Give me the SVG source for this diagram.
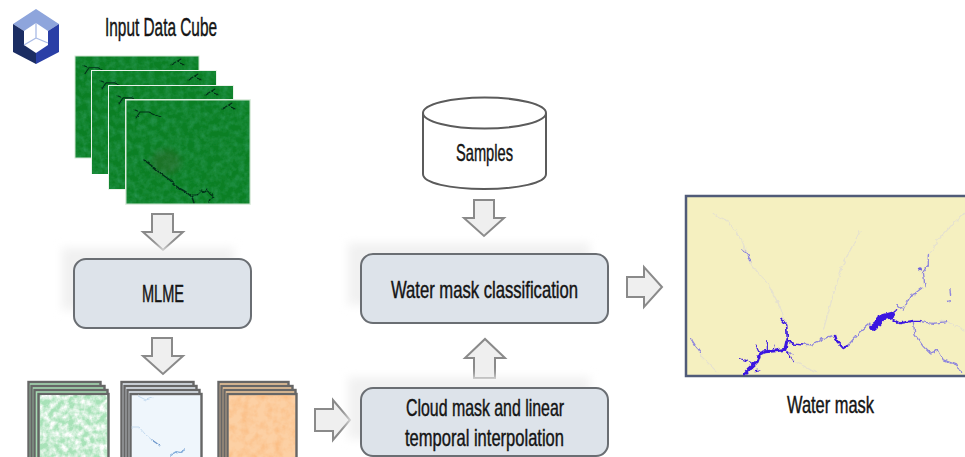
<svg xmlns="http://www.w3.org/2000/svg" xmlns:xlink="http://www.w3.org/1999/xlink" width="965" height="457" viewBox="0 0 965 457">
<style>
text{font-family:"Liberation Sans Narrow","Liberation Sans",sans-serif;fill:#141414;font-size:24px;stroke:#141414;stroke-width:.45px;text-anchor:start}
.box{fill:#dde3ea;stroke:#6a6e73;stroke-width:2}
.arrow{fill:#efefef;stroke:#8a8a8a;stroke-width:2;stroke-linejoin:miter}
.shadow{fill:#f1f1f1;filter:url(#soft)}
.lay{stroke:#666;stroke-width:2.4}
.sat{stroke:#cfe6d2;stroke-width:1}
.r{fill:none;stroke-linecap:round;stroke-linejoin:round}
</style>
<defs>
<filter id="soft" x="-20%" y="-20%" width="140%" height="140%"><feGaussianBlur stdDeviation="5"/></filter>
<filter id="b1" x="-10%" y="-10%" width="120%" height="120%"><feTurbulence type="fractalNoise" baseFrequency="0.25" numOctaves="2" seed="3" result="n"/><feDisplacementMap in="SourceGraphic" in2="n" scale="3" xChannelSelector="R" yChannelSelector="G"/><feGaussianBlur stdDeviation="0.45"/></filter>
<filter id="b2" x="-30%" y="-30%" width="160%" height="160%"><feGaussianBlur stdDeviation="3"/></filter>
<filter id="bm" x="-5%" y="-5%" width="110%" height="110%"><feTurbulence type="fractalNoise" baseFrequency="0.07" numOctaves="2" seed="6" result="n"/><feDisplacementMap in="SourceGraphic" in2="n" scale="14" xChannelSelector="R" yChannelSelector="G"/><feGaussianBlur stdDeviation="1.300"/></filter>
<filter id="mott" x="0" y="0" width="100%" height="100%"><feTurbulence type="fractalNoise" baseFrequency="0.16" numOctaves="3" seed="4"/><feColorMatrix values="0 0 0 0 0.02  0 0 0 0 0.3  0 0 0 0 0.08  1.6 0 0 0 -0.55"/><feGaussianBlur stdDeviation="0.6"/></filter>
<filter id="mottL" x="0" y="0" width="100%" height="100%"><feTurbulence type="fractalNoise" baseFrequency="0.16" numOctaves="3" seed="9"/><feColorMatrix values="0 0 0 0 1  0 0 0 0 1  0 0 0 0 1  2.200 0 0 0 -0.7"/><feGaussianBlur stdDeviation="0.7"/></filter>
<filter id="mottO" x="0" y="0" width="100%" height="100%"><feTurbulence type="fractalNoise" baseFrequency="0.12" numOctaves="3" seed="13"/><feColorMatrix values="0 0 0 0 0.96  0 0 0 0 0.48  0 0 0 0 0.2  2 0 0 0 -0.75"/><feGaussianBlur stdDeviation="0.6"/></filter>
<symbol id="sat" viewBox="0 0 124 104" width="124" height="104" preserveAspectRatio="none">
<rect width="124" height="104" fill="#0b7f24"/>
<rect width="124" height="104" filter="url(#mott)"/>
<ellipse cx="40" cy="62" rx="15" ry="13" fill="#5a4a32" opacity=".22" filter="url(#b2)"/>
<g class="r" stroke="#06301a" stroke-width="1.100" filter="url(#b1)">
<path d="M9 10 14 12 23 12 34 17M14 12 10 18"/>
<path stroke-width="1.500" d="M18 60 26 66 34 73 44 80 51 87 60 92 66 97 68 103"/>
<path d="M66 95 71 95 75 91 79 92 81 90 84 94 88 97 84 99 83 103"/>
<path d="M96 9 101 6 106 3M104 5 108 9"/>
</g>
</symbol>
</defs>

<g id="connectors">
<path class="arrow" d="M152 214H173V232H183L163 250 143 232H152Z"/>
<path class="arrow" d="M152 338H172V356H183L163 374 143 356H152Z"/>
<path class="arrow" d="M474 200H494V218H504L484 236 464 218H474Z"/>
<path class="arrow" d="M474 378H495V358H505L485 339 465 358H474Z"/>
<path class="arrow" d="M627 277H644V267L662 287 644 307V297H627Z"/>
<path class="arrow" d="M315 409H333V400L350 420 333 440V431H315Z"/>
</g>

<g id="logo">
<polygon points="36,9 59,24 48,31 36,23 24,31 13,24" fill="#8ea5dc"/>
<polygon points="13,24 24,31 24,45 36,53 36,64 13,52" fill="#1b2d63"/>
<polygon points="59,24 48,31 48,45 36,53 36,64 59,52" fill="#2a3fa6"/>
<path d="M36 23V38M36 38 24 45M36 38 48 43" stroke="#a9bbe6" stroke-width="1.300" fill="none"/>
</g>

<g id="input-data-cube">
<text x="105" y="36" textLength="112" lengthAdjust="spacingAndGlyphs" style="font-size:25px">Input Data Cube</text>
<use xlink:href="#sat" href="#sat" x="75" y="56" width="124" height="102"/>
<rect class="sat" x="75" y="56" width="124" height="102" fill="none"/>
<rect x="91" y="70" width="126" height="104" fill="#eaf3ea"/>
<use xlink:href="#sat" href="#sat" x="92" y="71" width="124" height="103"/>
<rect x="108" y="85" width="126" height="105" fill="#eaf3ea"/>
<use xlink:href="#sat" href="#sat" x="109" y="86" width="124" height="103"/>
<rect x="125" y="99" width="126" height="106" fill="#eaf3ea"/>
<use xlink:href="#sat" href="#sat" x="126" y="100" width="124" height="104"/>
<rect class="sat" x="126" y="100" width="124" height="104" fill="none"/>
</g>

<g id="mlme">
<rect class="shadow" x="62" y="248" width="172" height="62"/>
<rect class="box" x="74" y="259" width="177" height="69" rx="12"/>
<text x="142" y="302" textLength="42" lengthAdjust="spacingAndGlyphs">MLME</text>
</g>

<g id="stack-green">
<rect class="lay" x="28.500" y="382" width="72" height="80" fill="#a6dab2"/>
<rect class="lay" x="31.500" y="386" width="73" height="80" fill="#a6dab2"/>
<rect class="lay" x="34.500" y="390" width="73" height="80" fill="#a6dab2"/>
<rect class="lay" x="38.500" y="394" width="70" height="80" fill="#a8e2b8"/>
<rect x="40" y="395" width="67" height="62" filter="url(#mottL)"/>
</g>
<g id="stack-blue">
<rect class="lay" x="121.500" y="382" width="72" height="80" fill="#dfe6ee"/>
<rect class="lay" x="124.500" y="386" width="72" height="80" fill="#dfe6ee"/>
<rect class="lay" x="127.500" y="390" width="72" height="80" fill="#dfe6ee"/>
<rect class="lay" x="130.500" y="394" width="71" height="80" fill="#eff6fc"/>
<g class="r" filter="url(#b1)">
<path d="M132 427 139 427 145 434 152 440 158 444M138 396 146 400 152 398" stroke="#c4daef" stroke-width="1"/>
<path d="M152 440 159 445" stroke="#6f98cc" stroke-width="1.200"/>
<path d="M171 455 176 452 181 453 184 449" stroke="#86aedb" stroke-width="1.800"/>
</g>
</g>
<g id="stack-orange">
<rect class="lay" x="218.500" y="382" width="70" height="80" fill="#ecc69a"/>
<rect class="lay" x="221.500" y="386" width="71" height="80" fill="#ecc69a"/>
<rect class="lay" x="224.500" y="390" width="71" height="80" fill="#ecc69a"/>
<rect class="lay" x="227.500" y="394" width="69" height="80" fill="#fcd0a4"/>
<rect x="229" y="395" width="66" height="62" filter="url(#mottO)" opacity=".75"/>
</g>

<g id="samples">
<path d="M423 113V174C423 183 450 189 484 189S546 183 546 174V113" fill="#fff" stroke="#5b5b5b" stroke-width="2"/>
<ellipse cx="484.500" cy="113" rx="61.500" ry="15.500" fill="#fff" stroke="#5b5b5b" stroke-width="2"/>
<text x="456" y="161" textLength="57" lengthAdjust="spacingAndGlyphs">Samples</text>
</g>

<g id="water-mask-classification">
<rect class="shadow" x="348" y="243" width="242" height="62"/>
<rect class="box" x="361" y="254" width="247" height="69" rx="12"/>
<text x="391" y="298" textLength="187" lengthAdjust="spacingAndGlyphs">Water mask classification</text>
</g>

<g id="cloud-mask">
<rect class="shadow" x="348" y="377" width="242" height="62"/>
<rect class="box" x="361" y="388" width="247" height="68" rx="12"/>
<text x="406" y="416" textLength="158" lengthAdjust="spacingAndGlyphs">Cloud mask and linear</text>
<text x="405" y="446" textLength="159" lengthAdjust="spacingAndGlyphs">temporal interpolation</text>
</g>

<g id="water-mask">
<rect x="686" y="196" width="282" height="180" fill="#f5f0c0" stroke="#505b78" stroke-width="2.500"/>
<g class="r" transform="translate(680 190) scale(.3333)" filter="url(#bm)">
<g stroke="#e6e2cf" stroke-width="4">
<path d="M100 70 145 95 185 150 215 225 265 285 300 350 310 385"/>
<path d="M430 420 455 330 490 220 540 125"/>
<path d="M745 200 775 150 820 100 855 70"/>
<path d="M65 500 110 545M340 510 410 550"/>
<path d="M780 390 800 395 855 420"/>
</g>
<g stroke="#8f86dc" stroke-width="4">
<path d="M188 180 205 195 212 215"/>
<path d="M32 445 45 465 62 488"/>
<path d="M745 195 745 225 730 245 735 290"/>
<path d="M650 345 670 360 690 320 725 295"/>
<path d="M700 395 705 435 730 470 750 490 775 480 790 510 830 525 845 550"/>
<path d="M800 335 808 332M810 298 812 315"/>
<path d="M720 395 760 400 800 395"/>
<path d="M340 495 320 485"/>
<path d="M465 435 430 445 395 465 370 462"/>
<path d="M505 465 540 425 570 400"/>
</g>
<g stroke="#3a18e0" fill="none">
<path stroke-width="5" d="M303 385 320 405 322 450 340 462 370 465"/>
<path stroke-width="7" d="M465 435 470 452 490 474 505 465"/>
<path stroke-width="6" d="M640 390 660 400 700 392 720 392"/>
<path stroke-width="9" d="M320 455 315 478 290 482 255 485 240 490 232 515 210 535 195 552"/>
<path stroke-width="3.500" d="M240 490 228 465M262 482 262 452M280 480 282 462M220 520 178 505M225 542 240 540M315 480 340 515"/>
<path stroke-width="20" d="M578 412 595 398 610 382 635 375"/>
<path stroke-width="4" d="M635 375 650 362M600 395 598 378"/>
</g>
<circle cx="720" cy="238" r="6" fill="#6f63dc"/>
</g>
<text x="787" y="413" textLength="87" lengthAdjust="spacingAndGlyphs">Water mask</text>
</g>
</svg>
